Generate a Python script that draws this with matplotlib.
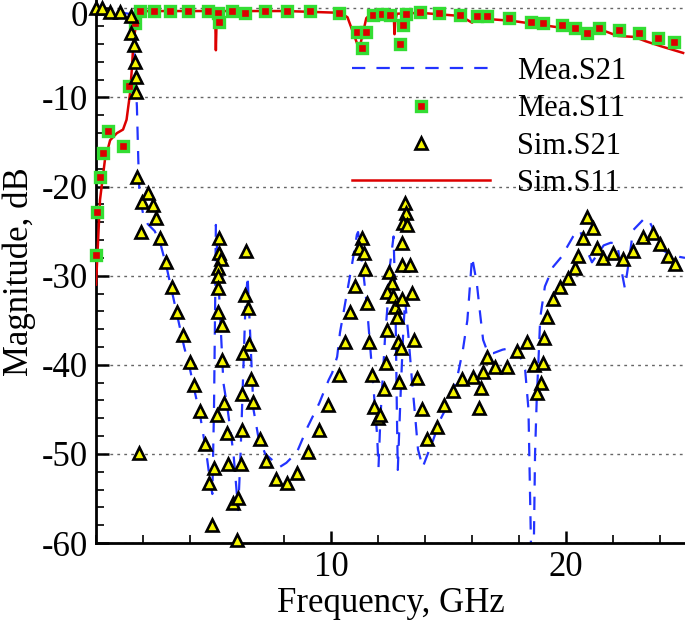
import matplotlib
matplotlib.use("Agg")
import matplotlib.pyplot as plt
from matplotlib.ticker import MultipleLocator, FixedLocator

plt.rcParams['font.family'] = ['Liberation Serif', 'DejaVu Serif']
plt.rcParams['axes.unicode_minus'] = False

# ---------------- data ----------------
# Mea.S21 (measured transmission, dashed blue)
mea_s21_f = [0.0, 1.4, 1.6, 1.68, 1.74, 1.80, 1.85, 2.0, 2.2, 2.5, 2.75, 3.0, 3.25, 3.5, 3.75,
             4.0, 4.2, 4.45, 4.7, 4.85, 4.95, 5.02, 5.07, 5.1, 5.2, 5.3, 5.42, 5.6, 5.85, 6.05,
             6.15, 6.25, 6.35, 6.45, 6.55, 6.7, 6.9, 7.2, 7.5, 7.8, 8.1, 8.55, 9.0, 9.5, 9.9,
             10.05, 10.26, 10.38, 10.6, 10.8, 10.94, 11.1, 11.15, 11.4, 11.53, 11.8, 11.96, 12.02,
             12.1, 12.3, 12.4, 12.5, 12.66, 12.74, 12.8, 12.84, 12.95, 13.06, 13.15, 13.3, 13.45,
             13.57, 13.7, 13.9, 14.13, 14.3, 14.64, 15.06, 15.4, 15.6, 15.8, 15.9, 16.0, 16.2,
             16.34, 16.47, 16.68, 16.9, 17.3, 17.9, 18.26, 18.4, 18.47, 18.52, 18.62, 18.68, 18.75,
             18.85, 18.9, 19.1, 19.45, 19.8, 20.3, 20.5, 20.6, 20.94, 21.1, 21.6, 21.9, 22.17,
             22.4, 22.5, 22.7, 22.85, 23.36, 23.5, 23.66, 23.9, 24.34, 24.85, 25.06]
mea_s21_db = [-0.1, -0.6, -3, -8, -11, -17, -21, -23, -24.2, -25, -26.5, -29, -32, -35, -38,
              -40.5, -43, -46, -50, -53, -54.5, -45, -33, -24.3, -30, -35.5, -42, -45, -50, -56.3,
              -50, -42, -34, -30, -36, -45, -48, -50, -50.7, -51.5, -51, -49.8, -47, -44.3, -41.7,
              -40.9, -39.1, -36.4, -33.1, -30.1, -28, -25.4, -25.1, -30.3, -33.5, -42.4, -47.9, -51.5,
              -46, -36.8, -33.5, -29, -25.6, -33, -45, -51.8, -44, -37, -32.7, -37, -42,
              -45.5, -49.5, -51.5, -49.9, -48.8, -46.2, -44, -41, -38.5, -35, -31.5, -27.9, -30.8,
              -34.2, -37.2, -38.7, -38.7, -38.3, -38, -40.6, -45, -55, -62, -62, -50, -44,
              -38, -34.7, -31.2, -29, -27.9, -25.6, -24.9, -25, -27.5, -28.5, -26.6, -26.3, -26.4,
              -30, -31.4, -27.9, -24.9, -23.5, -23.7, -24.5, -26.8, -27.5, -27.9, -28.0]

# Mea.S11 (measured reflection, squares)
mea_s11_f = [0.0, 0.04, 0.17, 0.30, 0.51, 1.15, 1.40, 1.66, 1.87, 2.47, 3.15, 3.91, 4.77, 5.19,
             5.23, 5.79, 6.34, 7.19, 8.13, 9.11, 10.34, 11.11, 11.49, 11.32, 11.79, 12.17, 12.51,
             12.94, 13.06, 13.19, 13.79, 14.6, 15.49, 16.21, 16.64, 17.57, 18.51, 19.02, 19.83,
             20.38, 20.89, 21.4, 22.26, 23.11, 23.91, 24.6]
mea_s11_db = [-27.7, -22.8, -18.9, -16.2, -13.8, -15.4, -8.7, -1.6, -0.3, -0.3, -0.3, -0.3, -0.3, -0.5,
              -1.5, -0.3, -0.5, -0.3, -0.3, -0.3, -0.5, -2.6, -2.6, -4.4, -0.7, -0.6, -0.7,
              -4.0, -1.9, -0.6, -0.4, -0.5, -0.7, -0.85, -0.85, -1.1, -1.5, -1.6, -1.9,
              -2.2, -2.8, -2.2, -2.4, -2.8, -3.3, -3.8]

# Sim.S21 (simulated transmission, triangles)
sim_s21_f = [0.0, 0.26, 0.6, 1.02, 1.49, 1.49, 1.62, 1.66, 1.70, 1.70, 1.74, 1.96, 2.21, 2.43, 2.55,
             1.91, 2.72, 2.98, 3.23, 3.45, 3.70, 4.0, 4.17, 4.43, 4.64, 5.02, 4.81, 4.94, 5.15, 5.45,
             5.57, 5.62, 5.83, 6.04, 6.17, 6.21, 6.21, 6.6, 6.68, 6.98, 7.23, 6.0, 7.66, 8.13, 8.55,
             9.02, 1.83, 9.49, 9.87, 5.23, 5.23, 5.32, 5.19, 5.19, 5.19, 5.19, 5.36, 5.36, 6.38,
             6.34, 6.47, 6.51, 6.26, 10.34, 10.6, 10.81, 11.02, 11.32, 11.19, 11.4, 11.45, 11.53,
             11.62, 11.74, 11.83, 12.0, 12.09, 12.26, 12.34, 12.38, 12.47, 12.6, 12.38, 12.64, 12.72,
             12.81, 12.89, 12.85, 12.98, 13.02, 13.02, 13.02, 13.15, 13.19, 13.06, 13.23, 13.36,
             13.45, 13.53, 13.66, 13.87, 14.09, 14.5, 14.8, 15.19, 15.57, 16.04, 16.3, 16.38, 16.47,
             16.64, 16.98, 17.49, 17.91, 18.34, 18.64, 19.02, 18.94, 18.77, 19.06, 19.19, 19.45,
             19.74, 20.09, 20.38, 20.51, 20.72, 20.89, 21.15, 21.32, 21.57, 22.0, 22.43, 22.85,
             23.28, 23.7, 24.0, 24.34, 24.64]
sim_s21_db = [0.0, 0.0, -0.4, -0.4, -0.85, -2.8, -4.1, -6.0, -7.7, -9.4, -18.9, -21.7, -20.7, -22.1, -23.5,
              -25.1, -25.8, -28.5, -31.3, -34.1, -36.7, -39.7, -42.3, -45.2, -48.9, -51.6, -53.3, -58.0, -45.6, -44.3,
              -47.6, -51.1, -55.5, -54.9, -51.1, -47.3, -43.3, -41.6, -44.2, -48.3, -50.8, -59.7, -52.8, -53.3, -52.1,
              -49.8, -49.9, -47.3, -44.5, -25.8, -27.4, -28.1, -29.1, -30.0, -31.4, -34.1, -35.5, -39.5, -27.2,
              -32.2, -33.6, -37.7, -38.7, -41.2, -37.4, -34.1, -31.2, -25.8, -26.9, -27.5, -29.2, -33.1,
              -37.4, -41.1, -44.7, -46.0, -45.6, -42.7, -39.8, -36.1, -29.6, -30.8, -31.8, -32.3, -33.5,
              -34.6, -41.9, -37.4, -38.1, -26.3, -28.8, -32.6, -21.8, -23.0, -24.1, -24.3, -28.8,
              -31.9, -37.2, -41.5, -45.0, -48.3, -47.0, -44.5, -42.9, -41.6, -41.4, -44.8, -42.6, -40.8,
              -39.1, -40.2, -40.2, -38.4, -37.4, -40.0, -39.8, -42.0, -43.2, -37.0, -34.6, -32.6,
              -31.3, -30.3, -29.1, -27.8, -25.8, -23.4, -24.6, -26.9, -28.0, -27.4, -28.1, -27.2,
              -25.7, -25.2, -26.4, -27.8, -28.7]

# Sim.S11 (simulated reflection, solid red)
sim_s11_f = [0.0, 0.17, 0.38, 0.6, 0.89, 1.15, 1.3, 1.45, 1.53, 1.6, 1.74, 1.87, 2.2, 5.0, 5.08, 5.1,
             5.13, 5.2, 8.1, 10.4, 10.7, 11.2, 11.5, 11.7, 12.6, 12.68, 12.7, 12.73, 12.8, 13.8,
             15.5, 16.0, 16.2, 17.7, 19.6, 20.7, 21.3, 22.2, 22.9, 23.4, 24.1, 24.98]
sim_s11_db = [-31, -21.5, -17, -14.8, -14.0, -13.6, -12.5, -9.5, -6.6, -3.5, -1.3, -0.5, -0.3, -0.3, -2.0, -4.7,
              -1.5, -0.3, -0.3, -0.5, -1.0, -4.6, -1.1, -0.6, -0.6, -1.5, -2.9, -1.5, -0.6, -0.5,
              -0.85, -1.6, -1.1, -1.4, -2.1, -2.8, -2.2, -3.1, -3.2, -3.7, -4.3, -5.0]

x_ticks = [10, 20]
x_ticklabels = ['10', '20']
y_ticks = [0, -10, -20, -30, -40, -50, -60]
y_ticklabels = ['0', '-10', '-20', '-30', '-40', '-50', '-60']

# ---------------- figure ----------------
W, H = 685, 622
fig = plt.figure(figsize=(W / 100, H / 100), dpi=100)
ax = fig.add_axes([96 / W, (H - 543) / H, (W - 96) / W, 543 / H])

ax.set_xlim(0, 25.06)
ax.set_ylim(-60, 0.94)

l1, = ax.plot(mea_s21_f, mea_s21_db, color='#2233ff', lw=1.6, ls=(0, (6, 5)), zorder=2,
              label='Mea.S21')
l4, = ax.plot(sim_s11_f, sim_s11_db, color='#dd0000', lw=1.8, zorder=3, label='Sim.S11')
l2, = ax.plot(mea_s11_f, mea_s11_db, ls='none', marker='s', ms=7.0, mfc='#dd0000',
              mec='#33dd33', mew=2.4, zorder=4, clip_on=False, label='Mea.S11')
l3, = ax.plot(sim_s21_f, sim_s21_db, ls='none', marker='^', ms=9.2, mfc='#f5f500',
              mec='black', mew=1.9, zorder=5, clip_on=False, label='Sim.S21')

ax.yaxis.grid(True, which='major', color='#666666', ls=(0, (2, 3)), lw=1.0)
ax.set_axisbelow(True)

for s in ['top', 'right']:
    ax.spines[s].set_visible(False)
for s in ['left', 'bottom']:
    ax.spines[s].set_linewidth(2.0)

ax.xaxis.set_major_locator(FixedLocator(x_ticks))
ax.set_xticklabels(x_ticklabels)
ax.xaxis.set_minor_locator(MultipleLocator(2))
ax.yaxis.set_major_locator(FixedLocator(y_ticks))
# the top ("0") label is drawn separately a little lower so it is not cut off
ax.set_yticklabels([''] + y_ticklabels[1:])
ax.yaxis.set_minor_locator(MultipleLocator(2))

ax.tick_params(which='major', direction='in', length=9, width=1.8, labelsize=25, pad=6)
ax.tick_params(which='minor', direction='in', length=5.5, width=1.2)

fig.text((96 - 8.5) / W, 1 - 1 / H, y_ticklabels[0], fontsize=25, ha='right', va='top')

ax.set_xlabel('Frequency, GHz', fontsize=25, labelpad=2)
ax.set_ylabel('Magnitude, dB', fontsize=25, labelpad=4)

leg = ax.legend(handles=[l1, l2, l3, l4], loc='upper left',
                bbox_to_anchor=(352 / W, 1 - 57 / H), bbox_transform=fig.transFigure,
                frameon=False, fontsize=22, handlelength=4.5, handletextpad=0.9,
                labelspacing=0.27, borderpad=0, borderaxespad=0, numpoints=1)

fig.savefig('out.png', dpi=100)
